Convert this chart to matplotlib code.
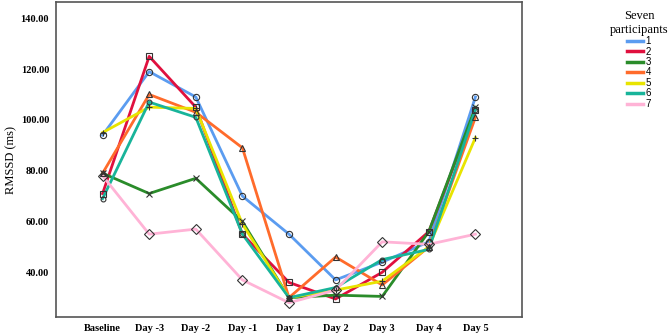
import matplotlib
matplotlib.use("Agg")
import matplotlib.pyplot as plt
from matplotlib.lines import Line2D

days = ["Baseline", "Day -3", "Day -2", "Day -1", "Day 1", "Day 2", "Day 3", "Day 4", "Day 5"]
participants = ["1", "2", "3", "4", "5", "6", "7"]

p1 = [94, 119, 109, 70, 55, 37, 44, 52, 109]
p2 = [71, 125, 105, 55, 36, 29.5, 40, 56, 104]
p3 = [79, 71, 77, 60, 30, 31, 30.5, 56, 105]
p4 = [79, 110, 103, 89, 30, 46, 35, 50, 101]
p5 = [95, 105, 104.5, 59, 30, 33, 36.5, 50, 93]
p6 = [69, 107, 101, 55, 30, 34, 45, 49, 104]
p7 = [78, 55, 57, 37, 28, 33, 52, 51, 55]
series = [p1, p2, p3, p4, p5, p6, p7]

colors = ["#5b9cf0", "#e0103e", "#2a8c2a", "#ff6b2b", "#e8e400", "#18b49a", "#ffb3d6"]
markers = ["o", "s", "x", "^", "+", "o", "D"]
msizes = [4.5, 4.5, 4, 4.5, 5, 3.5, 5]

fig = plt.figure(figsize=(6.69, 3.34), dpi=100)
ax = fig.add_axes([56/669, 1-317/334, (522-56)/669, (317-2)/334])

x = list(range(len(days)))
for s, c, m, ms in zip(series, colors, markers, msizes):
    ax.plot(x, s, color=c, lw=2.0, zorder=2)
    ax.plot(x, s, ls="none", marker=m, ms=ms, mfc="none", mec="#333333", mew=0.8, zorder=3)

ax.set_xlim(-1, 9)
ax.set_ylim(22.4, 146.4)
ax.set_xticks(x)
ax.set_xticklabels(days)
ax.set_yticks([40, 60, 80, 100, 120, 140])
ax.set_yticklabels([f"{v:.2f}" for v in [40, 60, 80, 100, 120, 140]])
ax.tick_params(length=0, pad=5)
for lab in ax.get_xticklabels() + ax.get_yticklabels():
    lab.set_fontfamily("Liberation Serif")
    lab.set_fontweight("bold")
    lab.set_fontsize(7.5)
for sp in ax.spines.values():
    sp.set_color("#555555")
    sp.set_linewidth(1.2)
fig.text(11/669, 1-160/334, "RMSSD (ms)", rotation=90, ha="center", va="center",
         fontfamily="Liberation Serif", fontsize=9)

handles = [Line2D([0], [0], color=c, lw=2.5) for c in colors]
leg = fig.legend(handles, participants, loc="upper center",
                 bbox_to_anchor=(639/669, 1-1/334), frameon=False,
                 title="Seven\nparticipants", fontsize=7,
                 handlelength=1.6, handletextpad=0.3, labelspacing=0.05)
leg.get_title().set_fontfamily("Liberation Serif")
leg.get_title().set_fontsize(9)
leg.get_title().set_multialignment("center")
for t in leg.get_texts():
    t.set_fontfamily("Liberation Sans")

fig.savefig("out.png", dpi=100)
